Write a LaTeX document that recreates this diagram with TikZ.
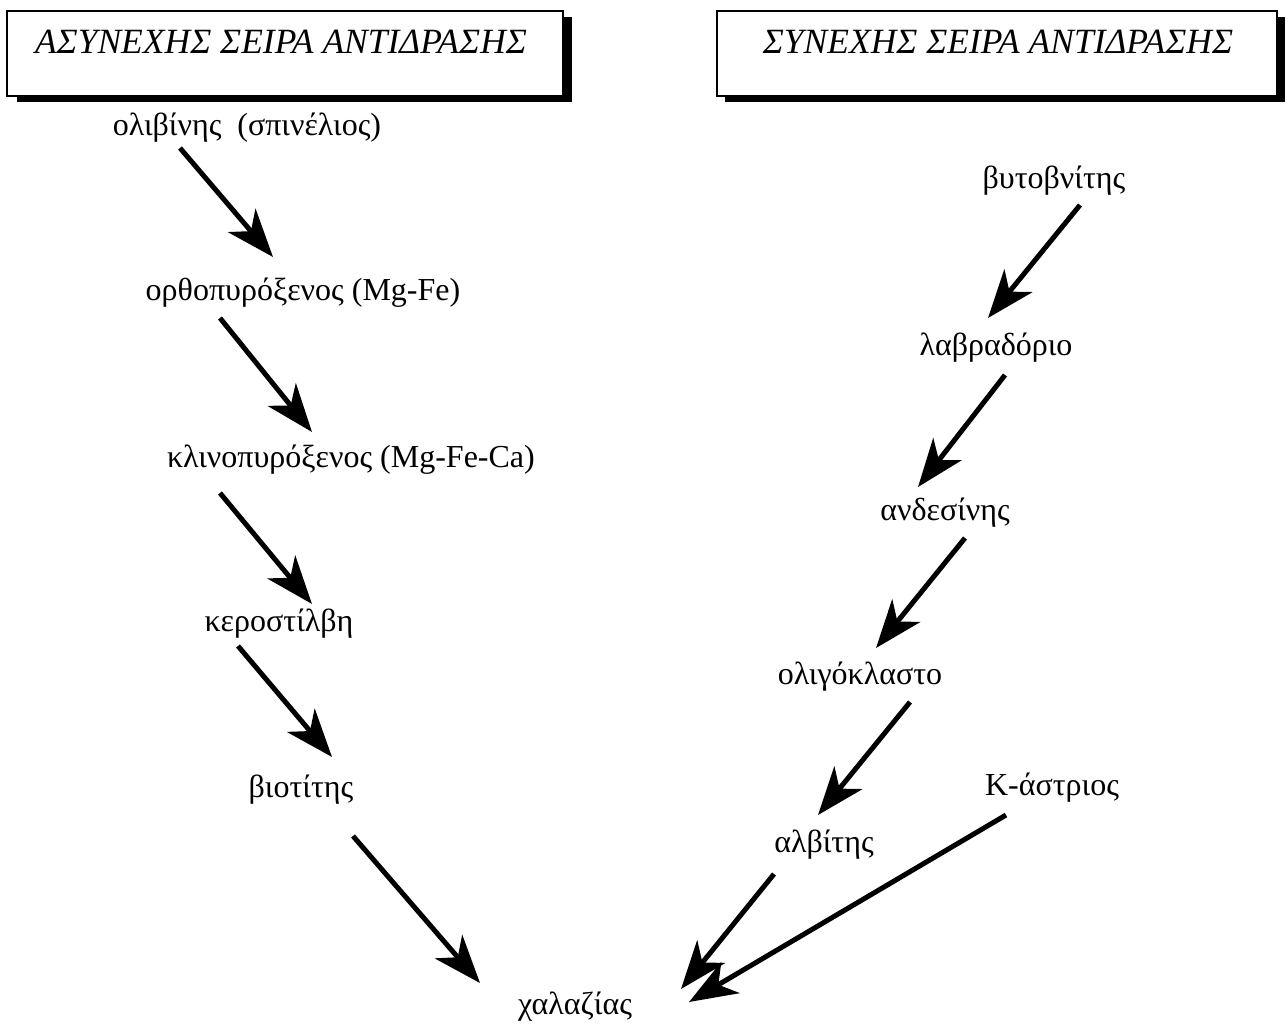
\documentclass[tikz,border=0pt]{standalone}
\usepackage{fontspec}
\setmainfont{Liberation Serif}
\usetikzlibrary{arrows.meta,calc}
\begin{document}
\begin{tikzpicture}[x=1pt,y=-1pt,
  lbl/.style={anchor=base,inner sep=0pt,font=\fontsize{32}{38}\selectfont},
  ttl/.style={anchor=base,inner sep=0pt,font=\fontsize{35.5}{42}\selectfont\itshape},
  arr/.style={line width=5pt,-{Stealth[length=48pt,width=36pt,inset=14pt]}},
  hbox/.style={draw=black,line width=2pt,fill=white,inner sep=0pt},
  hshadow/.style={fill=black}]
\useasboundingbox (0,0) rectangle (1287,1026);
\fill[white] (0,0) rectangle (1287,1026);

% header boxes
\fill[hshadow] (17,17) rectangle (572,102);
\node[hbox,minimum width=556pt,minimum height=85pt] (box1) at (285,53.5) {};
\node[ttl] (t1) at (281,53) {ΑΣΥΝΕΧΗΣ ΣΕΙΡΑ ΑΝΤΙΔΡΑΣΗΣ};

\fill[hshadow] (725,17) rectangle (1285,102);
\node[hbox,minimum width=560pt,minimum height=85pt] (box2) at (997,53.5) {};
\node[ttl] (t2) at (998,53) {ΣΥΝΕΧΗΣ ΣΕΙΡΑ ΑΝΤΙΔΡΑΣΗΣ};

% left column
\node[lbl] (ol) at (247,135) {ολιβίνης\ \ (σπινέλιος)};
\node[lbl] (ortho) at (303,300) {ορθοπυρόξενος (Mg-Fe)};
\node[lbl] (klino) at (351,467) {κλινοπυρόξενος (Mg-Fe-Ca)};
\node[lbl] (kero) at (279,631) {κεροστίλβη};
\node[lbl] (biot) at (301,797) {βιοτίτης};
\node[lbl] (chal) at (575,1014) {χαλαζίας};

% right column
\node[lbl] (byto) at (1054,188) {βυτοβνίτης};
\node[lbl] (labr) at (996,355) {λαβραδόριο};
\node[lbl] (andes) at (945,520) {ανδεσίνης};
\node[lbl] (olig) at (860,684) {ολιγόκλαστο};
\node[lbl] (alb) at (824,852) {αλβίτης};
\node[lbl] (kast) at (1052,795) {K-άστριος};

% arrows
\draw[arr] ($(ol.base)+(-67,13)$) -- ($(ortho.base)+(-30,-43)$);
\draw[arr] ($(ortho.base)+(-83,18)$) -- ($(klino.base)+(-39,-35)$);
\draw[arr] ($(klino.base)+(-131,26)$) -- ($(kero.base)+(33,-27)$);
\draw[arr] ($(kero.base)+(-41,15)$) -- ($(biot.base)+(31,-40)$);
\draw[arr] ($(biot.base)+(52,39)$) -- ($(chal.base)+(-95,-31)$);

\draw[arr] ($(byto.base)+(26,17)$) -- ($(labr.base)+(-8,-37)$);
\draw[arr] ($(labr.base)+(9,20)$) -- ($(andes.base)+(-27,-33)$);
\draw[arr] ($(andes.base)+(20,18)$) -- ($(olig.base)+(16,-36)$);
\draw[arr] ($(olig.base)+(50,18)$) -- ($(alb.base)+(-6,-37)$);
\draw[arr] ($(alb.base)+(-50,22)$) -- ($(chal.base)+(106,-25)$);
\draw[arr] ($(kast.base)+(-46,20)$) -- ($(chal.base)+(114,-12)$);
\end{tikzpicture}
\end{document}
